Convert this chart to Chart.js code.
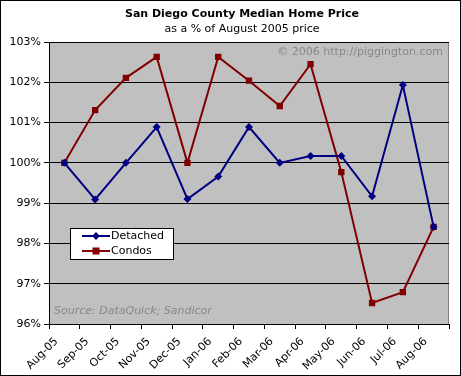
<!DOCTYPE html>
<html><head><meta charset="utf-8">
<script src="https://cdn.jsdelivr.net/npm/chart.js@4.4.0/dist/chart.umd.min.js"></script>
<style>html,body{margin:0;padding:0;background:#fff}#wrap{width:461px;height:376px}</style>
</head><body><div id="wrap"><canvas id="c" width="461" height="376"></canvas></div>
<script>
const categories = ["Aug-05","Sep-05","Oct-05","Nov-05","Dec-05","Jan-06","Feb-06","Mar-06","Apr-06","May-06","Jun-06","Jul-06","Aug-06"];
const detached = [100, 99.09, 100, 100.89, 99.1, 99.66, 100.89, 100.0, 100.17, 100.17, 99.17, 101.93, 98.41];
const condos = [100, 101.31, 102.11, 102.63, 100.0, 102.63, 102.04, 101.41, 102.45, 99.77, 96.52, 96.79, 98.41];
const titleText = "San Diego County Median Home Price";
const subtitleText = "as a % of August 2005 price";
const watermark = "\u00a9 2006 http://piggington.com";
const sourceText = "Source: DataQuick; Sandicor";
const FONT = "'DejaVu Sans', Verdana, sans-serif";

const deco = {
  id: 'deco',
  beforeDraw(chart) {
    const ctx = chart.ctx, a = chart.chartArea;
    ctx.save();
    ctx.fillStyle = '#fff';
    ctx.fillRect(0, 0, chart.width, chart.height);
    ctx.fillStyle = '#c0c0c0';
    ctx.fillRect(a.left, a.top, a.right - a.left, a.bottom - a.top);
    ctx.strokeStyle = '#808080';
    ctx.lineWidth = 1;
    ctx.strokeRect(a.left + 0.5, a.top + 0.5, a.right - a.left - 1, a.bottom - a.top);
    ctx.fillStyle = '#888888';
    ctx.font = "11px " + FONT;
    ctx.textAlign = 'right'; ctx.textBaseline = 'middle';
    ctx.fillText(watermark, a.right - 6, a.top + 10);
    ctx.font = "italic 11px " + FONT;
    ctx.textAlign = 'left';
    ctx.fillText(sourceText, a.left + 5, a.bottom - 13);
    ctx.restore();
  },
  afterDraw(chart) {
    const ctx = chart.ctx;
    ctx.save();
    ctx.fillStyle = '#000';
    ctx.textAlign = 'center'; ctx.textBaseline = 'middle';
    ctx.font = "bold 11px " + FONT;
    ctx.fillText(titleText, 242, 14);
    ctx.font = "11px " + FONT;
    ctx.fillText(subtitleText, 242, 29);
    // legend
    const lx = 70.5, ly = 228.5, lw = 103, lh = 31;
    ctx.fillStyle = '#fff';
    ctx.fillRect(lx, ly, lw, lh);
    ctx.strokeStyle = '#000'; ctx.lineWidth = 1;
    ctx.strokeRect(lx, ly, lw, lh);
    chart.data.datasets.forEach((ds, i) => {
      const y = 236 + i * 15;
      ctx.strokeStyle = ds.borderColor; ctx.lineWidth = 2;
      ctx.beginPath(); ctx.moveTo(82, y); ctx.lineTo(110, y); ctx.stroke();
      ctx.fillStyle = ds.borderColor;
      if (ds.pointStyle === 'rect') { ctx.fillRect(92.5, y - 3.5, 7, 7); }
      else { ctx.beginPath(); ctx.moveTo(96, y - 4); ctx.lineTo(100, y); ctx.lineTo(96, y + 4); ctx.lineTo(92, y); ctx.closePath(); ctx.fill(); }
      ctx.fillStyle = '#000';
      ctx.font = "11px " + FONT;
      ctx.textAlign = 'left';
      ctx.fillText(ds.label, 111, y + 0.5);
    });
    ctx.strokeStyle = '#000'; ctx.lineWidth = 1;
    ctx.strokeRect(0.5, 0.5, chart.width - 1, chart.height - 1);
    ctx.restore();
  }
};

new Chart(document.getElementById('c'), {
  type: 'line',
  data: {
    labels: categories,
    datasets: [
      { label: 'Detached', data: detached, borderColor: '#000080', backgroundColor: '#000080', borderWidth: 2, pointStyle: 'rectRot', pointRadius: 4, pointBorderWidth: 0, tension: 0 },
      { label: 'Condos', data: condos, borderColor: '#800000', backgroundColor: '#800000', borderWidth: 2, pointStyle: 'rect', pointRadius: 4.5, pointBorderWidth: 0, tension: 0 }
    ]
  },
  options: {
    responsive: false,
    animation: false,
    devicePixelRatio: 1,
    layout: { padding: { left: 0, top: 42, right: 12, bottom: 0 } },
    plugins: { legend: { display: false }, title: { display: false }, tooltip: { enabled: false } },
    scales: {
      x: {
        type: 'category',
        offset: true,
        grid: { offset: true, drawOnChartArea: false, drawTicks: true, tickLength: 5, color: '#000' },
        border: { display: true, color: '#000', width: 1 },
        ticks: { color: '#000', font: { family: FONT, size: 11 }, minRotation: 45, maxRotation: 45, autoSkip: false, padding: 6, labelOffset: -8 },
        afterFit(s) { s.height = 52; }
      },
      y: {
        min: 96, max: 103,
        ticks: { stepSize: 1, color: '#000', font: { family: FONT, size: 11 }, padding: 3, callback: v => v + '%' },
        grid: { color: '#000', lineWidth: 1, drawTicks: true, tickLength: 5 },
        border: { display: true, color: '#000', width: 1 },
        afterFit(s) { s.width = 49; }
      }
    }
  },
  plugins: [deco]
});
</script></body></html>
